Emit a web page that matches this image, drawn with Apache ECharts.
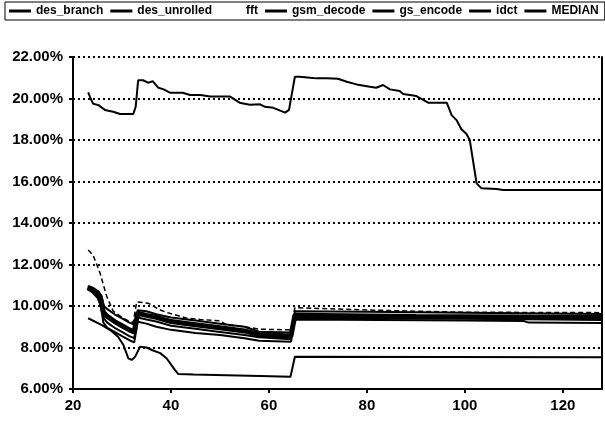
<!DOCTYPE html>
<html>
<head>
<meta charset="utf-8">
<script src="https://cdn.jsdelivr.net/npm/echarts@6/dist/echarts.min.js"></script>
<style>
  html, body { margin: 0; padding: 0; background: #fff; }
  #chart { width: 605px; height: 422px; }
</style>
</head>
<body>
<div id="chart"></div>
<script>
// series names, legend order
const names = ["des_branch", "des_unrolled", "fft", "gsm_decode", "gs_encode", "idct", "MEDIAN"];

// each series: [x, percent]
const desBranch = [[23,10.95],[24,10.85],[25,10.7],[25.8,10.5],[26.3,10.0],[27,9.85],[28.5,9.6],[30,9.4],[31.5,9.2],[32.5,9.1],[33.2,9.8],[35,9.75],[37,9.6],[40,9.45],[45,9.3],[50,9.15],[55,9.0],[58,8.76],[64.5,8.72],[65.3,9.75],[80,9.72],[100,9.68],[128,9.62]];
const desUnrolled = [[23,10.8],[24,10.65],[25,10.4],[25.7,10.0],[26.2,9.2],[27,8.95],[28.5,8.75],[30,8.55],[31.5,8.35],[32.5,8.25],[33.2,9.24],[35,9.15],[37,9.0],[40,8.85],[45,8.7],[50,8.6],[55,8.45],[58,8.33],[64.5,8.28],[65.3,9.35],[100,9.3],[112,9.28],[113,9.2],[128,9.18]];
const fft = [[23.1,12.7],[24.1,12.45],[25.5,11.6],[26.9,10.45],[28.2,9.75],[30,9.45],[31.6,9.25],[32.3,9.2],[33,10.2],[35.4,10.13],[37.8,9.81],[39,9.7],[43.2,9.41],[46,9.35],[50,9.29],[51.4,9.08],[55,9.0],[58.2,8.88],[64.5,8.85],[65.3,9.92],[70,9.88],[80,9.81],[90,9.75],[100,9.7],[128,9.68]];
const gsmDecode = [[23.1,20.3],[23.6,20.0],[24.1,19.75],[25.2,19.68],[26.5,19.45],[28.2,19.36],[29.6,19.25],[32.3,19.25],[32.8,19.6],[33.3,20.88],[34.3,20.88],[35.3,20.76],[36.3,20.83],[37.4,20.52],[38.4,20.45],[39.8,20.28],[42.4,20.28],[43.9,20.17],[46,20.17],[48,20.1],[52,20.1],[54,19.8],[56.1,19.7],[58.2,19.72],[59.2,19.6],[60.9,19.55],[63.3,19.32],[64.1,19.45],[65.3,21.05],[66.3,21.05],[68.4,21.0],[69.7,20.97],[71.8,20.97],[74.1,20.95],[75.9,20.81],[77.9,20.68],[80.6,20.57],[81.9,20.52],[83.3,20.65],[84.7,20.44],[86.7,20.36],[87.4,20.22],[90.1,20.12],[91.5,19.93],[92.5,19.8],[96.3,19.8],[97.3,19.2],[98.3,18.96],[99.3,18.52],[100.3,18.3],[101,18.0],[102.4,15.91],[103.4,15.67],[106.5,15.64],[107.8,15.59],[128,15.59]];
const gsEncode = [[23,10.85],[24,10.7],[25,10.5],[25.8,10.2],[26.3,9.4],[27,9.2],[28.5,8.95],[30,8.75],[31.5,8.55],[32.5,8.45],[33.2,9.45],[35,9.35],[37,9.25],[40,9.05],[45,8.9],[50,8.75],[55,8.6],[58,8.49],[64.5,8.4],[65.3,9.42],[100,9.38],[118,9.35],[128,9.32]];
const idct = [[23.1,9.41],[25.9,9.08],[27.6,8.84],[29.2,8.52],[30.3,8.12],[31.3,7.48],[32,7.4],[32.7,7.56],[33.7,8.04],[35,8.0],[36.1,7.88],[37.8,7.73],[39.1,7.48],[40.8,6.92],[41.5,6.72],[44.6,6.7],[58.2,6.63],[64.4,6.59],[65.3,7.55],[128,7.53]];
const median = [[23,10.9],[24,10.8],[25,10.65],[25.6,10.4],[26.2,9.7],[27,9.5],[28.5,9.25],[30,9.05],[31.5,8.85],[32.5,8.75],[33.2,9.65],[35,9.55],[37,9.45],[40,9.25],[45,9.1],[50,8.95],[55,8.8],[58,8.62],[64.5,8.55],[65.3,9.55],[90,9.5],[128,9.45]];

const allData = [desBranch, desUnrolled, fft, gsmDecode, gsEncode, idct, median];
const widths = [2, 2, 1.5, 2, 2, 2, 5];

const chart = echarts.init(document.getElementById("chart"));

const labelFont = { color: "#000", fontWeight: "bold", fontSize: 15, fontFamily: "Liberation Sans, Arial, sans-serif" };

const option = {
  backgroundColor: "#fff",
  animation: false,
  legend: {
    left: 5,
    top: 2,
    padding: [3, 6, 3, 4],
    borderColor: "#000",
    borderWidth: 1,
    itemWidth: 22,
    itemHeight: 3,
    itemGap: 7,
    textStyle: { color: "#000", fontWeight: "bold", fontSize: 12, fontFamily: "Liberation Sans, Arial, sans-serif" },
    data: names.map(function (n) {
      if (n === "fft") return { name: n, icon: "none", itemStyle: { opacity: 0 }, lineStyle: { opacity: 0 } };
      return { name: n, icon: "rect", itemStyle: { color: "#000" }, lineStyle: { type: "solid" } };
    }),
  },
  grid: { left: 73, right: 3, top: 57, bottom: 33 },
  xAxis: {
    type: "value",
    min: 20,
    max: 128,
    interval: 20,
    axisLine: { lineStyle: { color: "#000", width: 2 } },
    axisTick: { show: true, length: 4, lineStyle: { color: "#000", width: 2 } },
    axisLabel: Object.assign({ margin: 9, showMaxLabel: false }, labelFont),
    splitLine: { show: false },
  },
  yAxis: [
    {
      type: "value",
      min: 6,
      max: 22,
      interval: 2,
      axisLine: { show: true, lineStyle: { color: "#000", width: 2 } },
      axisTick: { show: true, length: 4, lineStyle: { color: "#000", width: 2 } },
      axisLabel: Object.assign({ margin: 10, formatter: function (v) { return v.toFixed(2) + "%"; } }, labelFont),
      splitLine: { show: true, lineStyle: { color: "#000", width: 2, type: [2, 3] } },
    },
    {
      type: "value",
      position: "right",
      min: 6,
      max: 22,
      interval: 2,
      axisLine: { show: true, lineStyle: { color: "#000", width: 2 } },
      axisTick: { show: false },
      axisLabel: { show: false },
      splitLine: { show: false },
    },
  ],
  series: names.map(function (n, i) {
    return {
      name: n,
      type: "line",
      yAxisIndex: 0,
      data: allData[i],
      showSymbol: false,
      symbol: "none",
      itemStyle: { color: "#000" },
      lineStyle: { color: "#000", width: widths[i], type: n === "fft" ? [5, 3] : "solid" },
      z: n === "MEDIAN" ? 3 : 2,
    };
  }),
};

chart.setOption(option);
</script>
</body>
</html>
